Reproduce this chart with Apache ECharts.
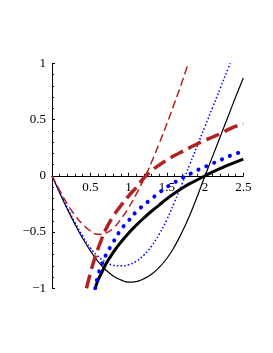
<!DOCTYPE html>
<html><head><meta charset="utf-8">
<script src="https://cdn.jsdelivr.net/npm/echarts@6/dist/echarts.min.js"></script>
<style>html,body{margin:0;padding:0;background:#fff}#c{width:273px;height:353px}</style>
</head><body><div id="c"></div>
<script>
var xTicks = [0, 0.5, 1, 1.5, 2, 2.5];
var yTicks = [-1, -0.5, 0, 0.5, 1];

var thinBlack = [[0,0],[0.1,-0.15],[0.2,-0.295],[0.3,-0.43],[0.4,-0.555],[0.5,-0.665],[0.6,-0.76],[0.7,-0.835],[0.8,-0.89],[0.9,-0.925],[1.0,-0.945],[1.1,-0.94],[1.2,-0.915],[1.3,-0.875],[1.4,-0.815],[1.5,-0.735],[1.6,-0.63],[1.7,-0.5],[1.8,-0.35],[1.9,-0.18],[2.0,0],[2.1,0.175],[2.2,0.35],[2.3,0.525],[2.4,0.7],[2.5,0.87]];
var thickBlack = [[0.565,-1.0],[0.6,-0.93],[0.65,-0.86],[0.7,-0.79],[0.8,-0.68],[0.9,-0.59],[1.0,-0.51],[1.1,-0.44],[1.2,-0.375],[1.3,-0.315],[1.4,-0.26],[1.5,-0.205],[1.6,-0.155],[1.7,-0.11],[1.8,-0.07],[1.9,-0.035],[2.0,0],[2.1,0.035],[2.2,0.065],[2.3,0.095],[2.4,0.122],[2.5,0.148]];
var thinBlue = [[0,0],[0.1,-0.145],[0.2,-0.285],[0.3,-0.415],[0.4,-0.535],[0.5,-0.64],[0.6,-0.715],[0.7,-0.765],[0.8,-0.795],[0.9,-0.8],[1.0,-0.79],[1.1,-0.76],[1.2,-0.705],[1.3,-0.625],[1.4,-0.52],[1.5,-0.39],[1.6,-0.235],[1.7,-0.07],[1.8,0.1],[1.9,0.27],[2.0,0.44],[2.1,0.61],[2.2,0.78],[2.3,0.95],[2.33,1.0]];
var thickBlue = [[0.565,-1.0],[0.6,-0.89],[0.65,-0.79],[0.7,-0.71],[0.8,-0.59],[0.9,-0.48],[1.0,-0.4],[1.1,-0.32],[1.2,-0.26],[1.3,-0.205],[1.4,-0.15],[1.5,-0.1],[1.6,-0.06],[1.7,-0.02],[1.8,0.015],[1.9,0.05],[2.0,0.08],[2.1,0.11],[2.2,0.14],[2.3,0.17],[2.4,0.195],[2.5,0.22]];
var thinRed = [[0,0],[0.1,-0.13],[0.2,-0.25],[0.3,-0.35],[0.4,-0.43],[0.5,-0.49],[0.6,-0.52],[0.7,-0.51],[0.8,-0.465],[0.9,-0.385],[1.0,-0.285],[1.1,-0.165],[1.2,-0.03],[1.3,0.12],[1.4,0.285],[1.5,0.46],[1.6,0.645],[1.7,0.835],[1.78,1.0]];
var thickRed = [[0.45,-1.0],[0.5,-0.87],[0.55,-0.75],[0.6,-0.65],[0.65,-0.56],[0.7,-0.48],[0.8,-0.36],[0.9,-0.265],[1.0,-0.18],[1.1,-0.105],[1.2,-0.02],[1.3,0.045],[1.4,0.095],[1.5,0.14],[1.6,0.18],[1.7,0.215],[1.8,0.25],[1.9,0.285],[2.0,0.315],[2.1,0.345],[2.2,0.375],[2.3,0.41],[2.4,0.44],[2.5,0.466]];

var red = '#b22222', blue = '#0000ff';
var gridTop = 63.3, gridBottom = 64.7, H = 353;
var plotH = H - gridTop - gridBottom;
function fmt(v){ return String(v).replace('-', '\u2212'); }
var chart = echarts.init(document.getElementById('c'), null, {renderer:'canvas'});
var lbl = {fontFamily:'Liberation Serif', fontSize:13, color:'#000'};
function mk(data, color, width, type, cap){
  return {type:'line', data:data, smooth:true, symbol:'none', silent:true, clip:true,
    lineStyle:{color:color, width:width, type:type, cap:cap||'butt'}};
}
chart.setOption({
  animation:false,
  grid:{left:52, right:29.7, top:gridTop, bottom:gridBottom, containLabel:false},
  xAxis:{type:'value', min:0, max:2.5, interval:0.5, offset:-plotH/2,
    axisLine:{onZero:false, lineStyle:{color:'#000', width:1}},
    axisTick:{show:true, inside:true, length:3, lineStyle:{color:'#000'}},
    minorTick:{show:true, splitNumber:5, length:2, lineStyle:{color:'#000'}},
    splitLine:{show:false},
    axisLabel:Object.assign({margin:5, formatter:function(v){return v===0?'':fmt(v);}}, lbl)},
  yAxis:{type:'value', min:-1, max:1, interval:0.5,
    axisLine:{show:true, onZero:false, lineStyle:{color:'#000', width:1}},
    axisTick:{show:true, inside:true, length:3, lineStyle:{color:'#000'}},
    minorTick:{show:true, splitNumber:5, length:2, lineStyle:{color:'#000'}},
    splitLine:{show:false},
    axisLabel:Object.assign({margin:6, formatter:function(v){return fmt(v);}}, lbl)},
  series:[
    mk(thinBlack, '#000', 1.2, 'solid'),
    mk(thinBlue, blue, 1.5, [1.5,2.2]),
    mk(thinRed, red, 1.5, [8,4]),
    mk(thickBlack, '#000', 3, 'solid'),
    mk(thickBlue, blue, 4, [0.1,8.5], 'round'),
    mk(thickRed, red, 3.5, [14,6])
  ]
});
</script></body></html>
